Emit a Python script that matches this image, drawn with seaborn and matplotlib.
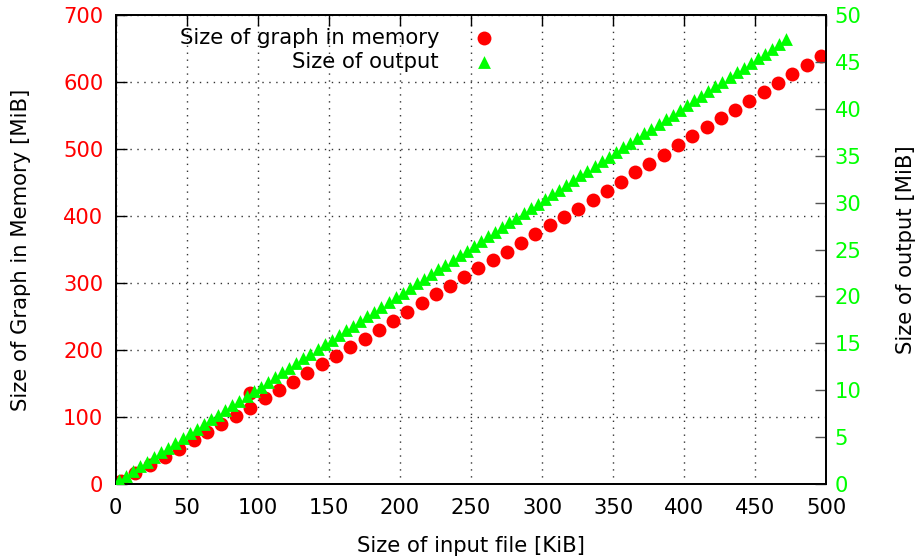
import numpy as np
import pandas as pd
import seaborn as sns
from matplotlib import pyplot as plt

# red series: size of graph in memory (left axis, MiB)
mem_x = [3.5, 13.8, 24.4, 34.5, 44.4, 54.7, 64.5, 74.4, 84.7, 94.6, 94.6, 104.9,
         114.8, 124.4, 134.7, 144.9, 155.0, 165.0, 175.1, 185.0, 195.0, 205.0,
         215.2, 225.4, 235.3, 245.3, 255.2, 265.3, 275.4, 285.4, 295.3, 305.4,
         315.5, 325.6, 335.7, 345.8, 355.8, 365.5, 375.6, 386.0, 396.0, 405.8,
         415.9, 426.0, 436.0, 446.0, 456.0, 466.4, 476.2, 486.4, 496.5]
mem_y = [5, 16, 28, 41, 53, 66, 78, 90, 102, 114, 136, 128,
         140, 153, 166, 179, 191, 204, 217, 230, 243, 257,
         270, 283, 296, 309, 322, 334, 347, 360, 373, 386,
         398, 411, 424, 437, 451, 466, 478, 491, 506, 520,
         533, 546, 559, 572, 585, 599, 612, 625, 639]

# green series: size of output (right axis, MiB)
out_x = [2, 7, 12, 17, 22, 27, 32, 37, 42, 47, 52, 57, 62, 67, 72, 77, 82, 87,
         92, 97, 102, 107, 112, 117, 122, 127, 132, 137, 142, 147, 152, 157,
         162, 167, 172, 177, 182, 187, 192, 197, 202, 207, 212, 217, 222, 227,
         232, 237, 242, 247, 252, 257, 262, 267, 272, 277, 282, 287, 292, 297,
         302, 307, 312, 317, 322, 327, 332, 337, 342, 347, 352, 357, 362, 367,
         372, 377, 382, 387, 392, 397, 402, 407, 412, 417, 422, 427, 432, 437,
         442, 447, 452, 457, 462, 467, 472]
out_y = [0.4, 0.9, 1.4, 1.9, 2.4, 2.9, 3.4, 3.9, 4.4, 4.9, 5.4, 5.9, 6.4, 6.9,
         7.4, 7.9, 8.4, 8.9, 9.4, 9.9, 10.4, 10.9, 11.4, 11.9, 12.4, 12.9, 13.4,
         13.9, 14.4, 14.9, 15.4, 15.9, 16.4, 16.9, 17.4, 17.9, 18.4, 18.9, 19.4,
         19.9, 20.4, 20.9, 21.4, 21.9, 22.4, 22.9, 23.4, 23.9, 24.4, 24.9, 25.4,
         25.9, 26.4, 26.9, 27.4, 27.9, 28.4, 28.9, 29.4, 29.9, 30.4, 30.9, 31.4,
         31.9, 32.4, 32.9, 33.4, 33.9, 34.4, 34.9, 35.4, 35.9, 36.4, 36.9, 37.4,
         37.9, 38.4, 38.9, 39.4, 39.9, 40.4, 40.9, 41.4, 41.9, 42.4, 42.9, 43.4,
         43.9, 44.4, 44.9, 45.4, 45.9, 46.4, 46.9, 47.4]

mem = pd.DataFrame({'x': mem_x, 'y': mem_y})
out = pd.DataFrame({'x': out_x, 'y': out_y})

sns.set_style('white')
plt.rcParams['font.family'] = ['DejaVu Sans']
plt.rcParams['text.color'] = 'black'
plt.rcParams['axes.labelcolor'] = 'black'

FS = 15.2

fig = plt.figure(figsize=(9.19, 5.59), dpi=100)
ax = fig.add_axes([0.126, 0.134, 0.773, 0.839])
ax2 = ax.twinx()

sns.scatterplot(data=mem, x='x', y='y', ax=ax, color='#ff0000', marker='o',
                s=100, linewidth=0, label='Size of graph in memory', legend=False, zorder=3)
sns.scatterplot(data=out, x='x', y='y', ax=ax2, color='#00ff00', marker='^',
                s=85, linewidth=0, label='Size of output', legend=False, zorder=3)

ax.set_xlim(0, 500)
ax.set_ylim(0, 700)
ax2.set_ylim(0, 50)
ax.set_xticks(np.arange(0, 501, 50))
ax.set_yticks(np.arange(0, 701, 100))
ax2.set_yticks(np.arange(0, 51, 5))

ax.grid(True, linestyle=(0, (1, 4)), color='#333333', linewidth=1)
ax2.grid(False)

ax.tick_params(axis='x', direction='in', length=8, width=1, top=True,
               labelsize=FS, colors='black', pad=10)
ax.tick_params(axis='y', direction='in', length=8, width=1, right=False,
               labelsize=FS, labelcolor='#ff0000', color='black', pad=9)
ax2.tick_params(axis='y', direction='in', length=8, width=1,
                labelsize=FS, labelcolor='#00ff00', color='#555555', pad=6)

for a in (ax, ax2):
    for sp in a.spines.values():
        sp.set_color('black')
        sp.set_linewidth(1.3)

ax.set_xlabel('Size of input file [KiB]', fontsize=FS, labelpad=13)
ax.set_ylabel('Size of Graph in Memory [MiB]', fontsize=FS, labelpad=23)
ax2.set_ylabel('Size of output [MiB]', fontsize=FS, labelpad=25)

h1, l1 = ax.get_legend_handles_labels()
h2, l2 = ax2.get_legend_handles_labels()
ax2.legend(h1 + h2, l1 + l2, loc='upper right', bbox_to_anchor=(0.562, 1.005),
           markerfirst=False, frameon=False, fontsize=FS, handlelength=1.5,
           handletextpad=1.4, labelspacing=0.2, borderaxespad=0.3)

fig.savefig('out.png', dpi=100)
